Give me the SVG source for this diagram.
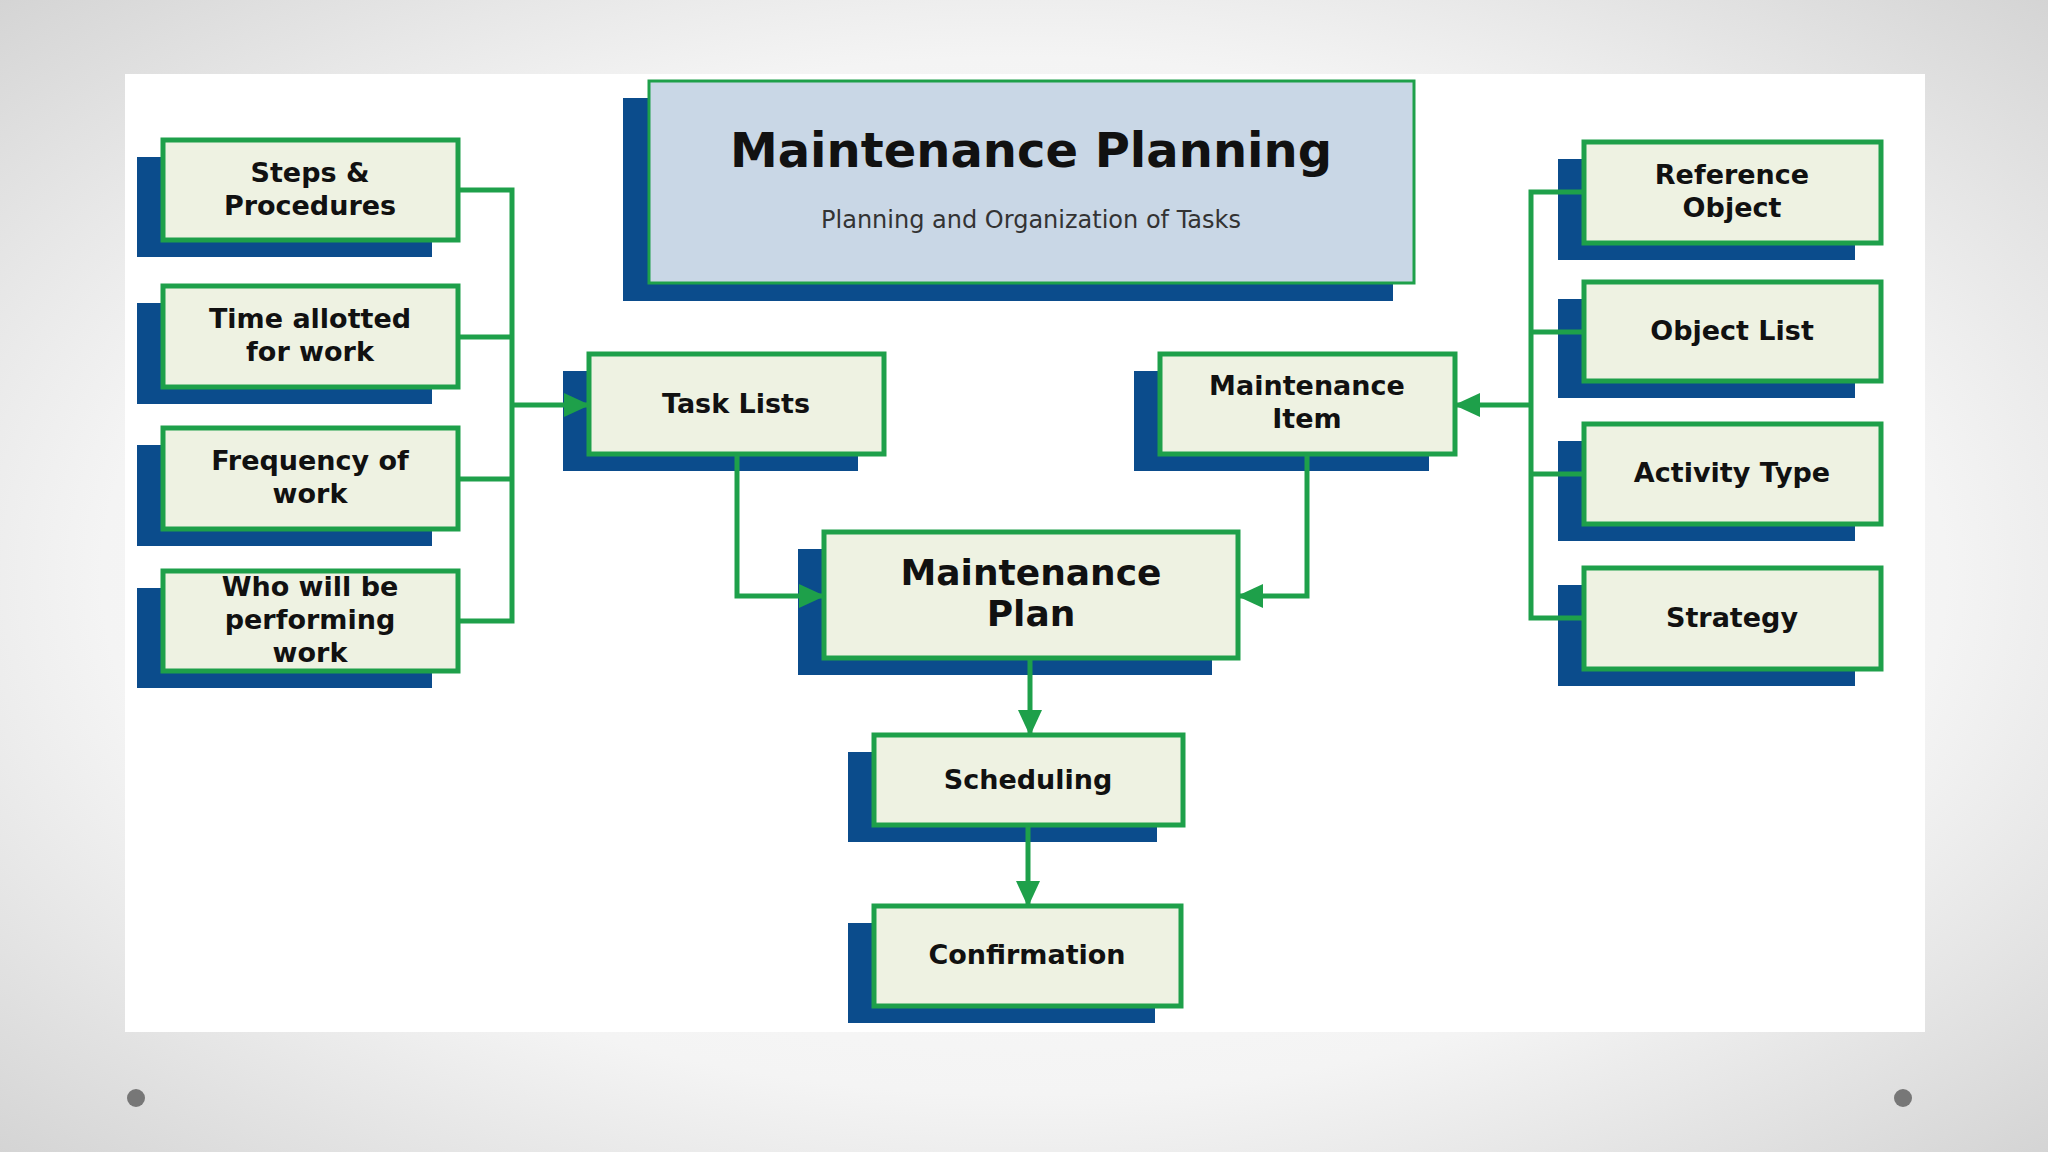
<svg xmlns="http://www.w3.org/2000/svg" width="2048" height="1152" viewBox="0 0 2048 1152">
<defs>
<radialGradient id="bg" cx="50%" cy="50%" r="75%"><stop offset="0" stop-color="#ffffff"/><stop offset="0.6" stop-color="#f4f4f4"/><stop offset="1" stop-color="#cfcfcf"/></radialGradient>
<marker id="ah" markerWidth="26" markerHeight="24" refX="24" refY="12" orient="auto" markerUnits="userSpaceOnUse" viewBox="0 0 26 24"><path d="M0,0 L26,12 L0,24 z" fill="#1ea04a"/></marker>
<style>
.sh{fill:#0b4c8c}
.bx{fill:#eef2e2;stroke:#1ea04a;stroke-width:5}
.t{font-family:"DejaVu Sans",sans-serif;font-weight:bold;font-size:27px;fill:#111;text-anchor:middle}
.tb{font-size:36px}
.c{fill:none;stroke:#1ea04a;stroke-width:5}
</style>
</defs>
<rect width="2048" height="1152" fill="url(#bg)"/>
<rect x="125" y="74" width="1800" height="958" fill="#fff"/>
<circle cx="136" cy="1098" r="9" fill="#777"/>
<circle cx="1903" cy="1098" r="9" fill="#777"/>
<g id="title">
<rect class="sh" x="623" y="98" width="770" height="203"/>
<rect x="649" y="81" width="765" height="202" fill="#c9d7e6" stroke="#1ea04a" stroke-width="3"/>
<text x="1031" y="167" font-family="DejaVu Sans,sans-serif" font-weight="bold" font-size="48" text-anchor="middle" fill="#111">Maintenance Planning</text>
<text x="1031" y="228" font-family="DejaVu Sans,sans-serif" font-size="24" text-anchor="middle" fill="#333">Planning and Organization of Tasks</text>
</g>
<g id="steps"><rect class="sh" x="137" y="157" width="295" height="100"/><rect class="bx" x="163" y="140" width="295" height="100"/><text class="t" x="310" y="182">Steps &amp;</text><text class="t" x="310" y="215">Procedures</text></g>
<g id="time"><rect class="sh" x="137" y="303" width="295" height="101"/><rect class="bx" x="163" y="286" width="295" height="101"/><text class="t" x="310" y="328">Time allotted</text><text class="t" x="310" y="361">for work</text></g>
<g id="freq"><rect class="sh" x="137" y="445" width="295" height="101"/><rect class="bx" x="163" y="428" width="295" height="101"/><text class="t" x="310" y="470">Frequency of</text><text class="t" x="310" y="503">work</text></g>
<g id="who"><rect class="sh" x="137" y="588" width="295" height="100"/><rect class="bx" x="163" y="571" width="295" height="100"/><text class="t" x="310" y="596">Who will be</text><text class="t" x="310" y="629">performing</text><text class="t" x="310" y="662">work</text></g>
<g id="tasklists"><rect class="sh" x="563" y="371" width="295" height="100"/><rect class="bx" x="589" y="354" width="295" height="100"/><text class="t" x="736" y="413">Task Lists</text></g>
<g id="mitem"><rect class="sh" x="1134" y="371" width="295" height="100"/><rect class="bx" x="1160" y="354" width="295" height="100"/><text class="t" x="1307" y="395">Maintenance</text><text class="t" x="1307" y="428">Item</text></g>
<g id="plan"><rect class="sh" x="798" y="549" width="414" height="126"/><rect class="bx" x="824" y="532" width="414" height="126"/><text class="t tb" x="1031" y="585">Maintenance</text><text class="t tb" x="1031" y="626">Plan</text></g>
<g id="sched"><rect class="sh" x="848" y="752" width="309" height="90"/><rect class="bx" x="874" y="735" width="309" height="90"/><text class="t" x="1028" y="789">Scheduling</text></g>
<g id="confirm"><rect class="sh" x="848" y="923" width="307" height="100"/><rect class="bx" x="874" y="906" width="307" height="100"/><text class="t" x="1027" y="964">Confirmation</text></g>
<g id="ref"><rect class="sh" x="1558" y="159" width="297" height="101"/><rect class="bx" x="1584" y="142" width="297" height="101"/><text class="t" x="1732" y="184">Reference</text><text class="t" x="1732" y="217">Object</text></g>
<g id="objlist"><rect class="sh" x="1558" y="299" width="297" height="99"/><rect class="bx" x="1584" y="282" width="297" height="99"/><text class="t" x="1732" y="340">Object List</text></g>
<g id="activity"><rect class="sh" x="1558" y="441" width="297" height="100"/><rect class="bx" x="1584" y="424" width="297" height="100"/><text class="t" x="1732" y="482">Activity Type</text></g>
<g id="strategy"><rect class="sh" x="1558" y="585" width="297" height="101"/><rect class="bx" x="1584" y="568" width="297" height="101"/><text class="t" x="1732" y="627">Strategy</text></g>
<g id="connectors">
<path class="c" d="M458,190 H512 V621 H458 M458,337 H512 M458,479 H512"/>
<path class="c" d="M512,405 H588" marker-end="url(#ah)"/>
<path class="c" d="M1584,192 H1531 V618 H1584 M1584,332 H1531 M1584,474 H1531"/>
<path class="c" d="M1531,405 H1456" marker-end="url(#ah)"/>
<path class="c" d="M737,454 V596 H823" marker-end="url(#ah)"/>
<path class="c" d="M1307,454 V596 H1239" marker-end="url(#ah)"/>
<path class="c" d="M1030,658 V734" marker-end="url(#ah)"/>
<path class="c" d="M1028,825 V905" marker-end="url(#ah)"/>
</g>
</svg>
